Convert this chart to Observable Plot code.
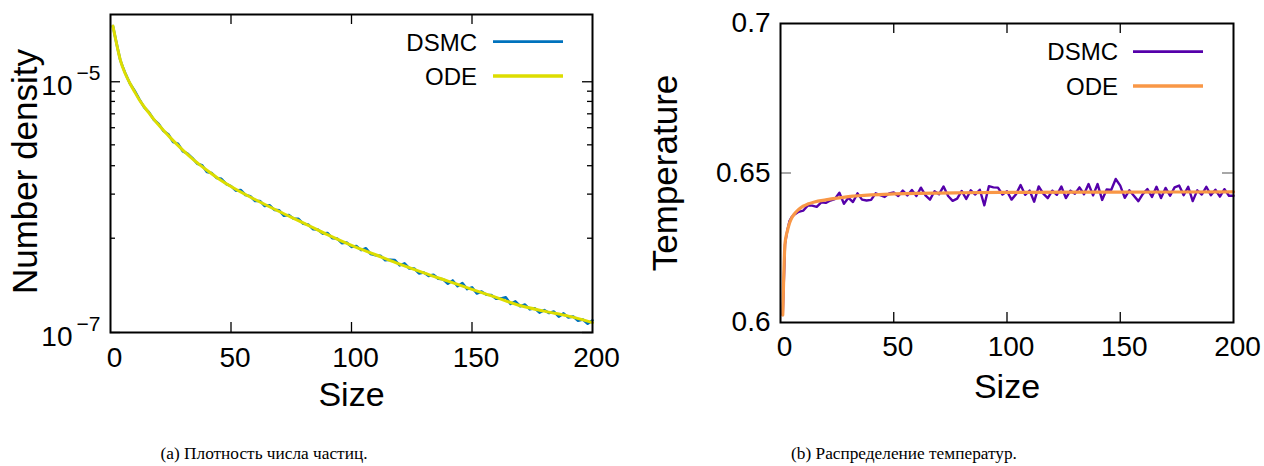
<!DOCTYPE html>
<html><head><meta charset="utf-8">
<script src="https://cdn.jsdelivr.net/npm/d3@7"></script>
<script src="https://cdn.jsdelivr.net/npm/@observablehq/plot@0.6"></script>
<style>
body{margin:0;background:#fff;}
#wrap{position:relative;width:1264px;height:466px;overflow:hidden;background:#fff;}
#wrap > svg{position:absolute;top:0;}
</style></head><body><div id="wrap"></div>
<script>
// ---------- data ----------
const odeSizeN = [1,2,3,4,6,8,10,12,14,16,18,20,25,30,35,40,45,50,60,70,80,90,100,110,120,130,140,150,160,170,180,190,200];
const odeDensity = [2.78e-5,2.24e-5,1.82e-5,1.51e-5,1.175e-5,9.77e-6,8.32e-6,7.16e-6,6.31e-6,5.62e-6,5.01e-6,4.52e-6,3.55e-6,2.85e-6,2.34e-6,1.97e-6,1.68e-6,1.46e-6,1.15e-6,9.23e-7,7.50e-7,6.03e-7,4.95e-7,4.17e-7,3.51e-7,2.99e-7,2.57e-7,2.21e-7,1.905e-7,1.64e-7,1.48e-7,1.35e-7,1.20e-7];

const dsmcSize = [1,2,3,4,5,6,8,10,12,14,16,18,20,22,24,26,28,30,32,34,36,38,40,42,44,46,48,50,
  52,54,56,58,60,62,64,66,68,70,72,74,76,78,80,82,84,86,88,90,92,94,96,98,100,
  102,104,106,108,110,112,114,116,118,120,122,124,126,128,130,132,134,136,138,140,142,144,146,148,150,
  152,154,156,158,160,162,164,166,168,170,172,174,176,178,180,182,184,186,188,190,192,194,196,198,200];
const dsmcDensity = [2.78e-5,2.25e-5,1.83e-5,1.503e-5,1.327e-5,1.186e-5,9.73e-6,8.48e-6,7.24e-6,6.25e-6,5.70e-6,4.98e-6,4.60e-6,4.05e-6,3.81e-6,3.30e-6,3.21e-6,2.79e-6,2.67e-6,2.46e-6,2.22e-6,2.16e-6,1.91e-6,1.87e-6,1.71e-6,1.68e-6,1.53e-6,1.47e-6,
  1.355e-6,1.37e-6,1.25e-6,1.22e-6,1.12e-6,1.12e-6,1.02e-6,1.035e-6,9.51e-7,9.44e-7,8.53e-7,8.65e-7,8.07e-7,8.07e-7,7.36e-7,7.28e-7,6.68e-7,6.64e-7,6.15e-7,6.22e-7,5.66e-7,5.62e-7,5.16e-7,5.22e-7,4.82e-7,
  4.90e-7,4.54e-7,4.70e-7,4.22e-7,4.13e-7,4.10e-7,3.77e-7,3.81e-7,3.78e-7,3.43e-7,3.56e-7,3.24e-7,3.24e-7,2.96e-7,3.01e-7,2.83e-7,2.89e-7,2.69e-7,2.66e-7,2.45e-7,2.60e-7,2.34e-7,2.48e-7,2.22e-7,2.29e-7,
  2.05e-7,2.12e-7,2.00e-7,1.99e-7,1.86e-7,1.87e-7,1.91e-7,1.69e-7,1.77e-7,1.62e-7,1.67e-7,1.53e-7,1.56e-7,1.44e-7,1.51e-7,1.43e-7,1.47e-7,1.34e-7,1.42e-7,1.32e-7,1.34e-7,1.24e-7,1.27e-7,1.175e-7,1.25e-7];

const odeSizeT = [1,2,3,4,5,6,8,10,12,15,20,25,30,40,50,60,80,100,150,200];
const odeTemp = [0.6025,0.6265,0.6305,0.6333,0.635,0.6362,0.6378,0.6389,0.6396,0.6403,0.641,0.6416,0.6421,0.6427,0.643,0.6432,0.6434,0.6435,0.6436,0.6437];
const dsmcTemp = [0.6025,0.6262,0.6308,0.6340,0.6353,0.6360,0.6370,0.6374,0.6391,0.6391,0.6387,0.6402,0.6400,0.6408,0.6413,0.6434,0.6397,0.6417,0.6403,0.6432,0.6411,0.6408,0.6410,0.6432,0.6426,0.6420,0.6432,0.6435,
  0.6423,0.6441,0.6425,0.6443,0.6423,0.6451,0.6425,0.6411,0.6439,0.6429,0.6455,0.6423,0.6407,0.6414,0.6440,0.6413,0.6442,0.6428,0.6444,0.6392,0.6456,0.6452,0.6451,0.6428,0.6439,
  0.6411,0.6429,0.6460,0.6427,0.6441,0.6404,0.6455,0.6431,0.6416,0.6441,0.6427,0.6455,0.6416,0.6441,0.6431,0.6452,0.6429,0.6463,0.6425,0.6463,0.6410,0.6445,0.6443,0.6480,0.6458,
  0.6417,0.6442,0.6424,0.6406,0.6430,0.6446,0.6420,0.6454,0.6416,0.6450,0.6424,0.6452,0.6458,0.6426,0.6454,0.6406,0.6442,0.6428,0.6454,0.6426,0.6444,0.6421,0.6446,0.6424,0.6424];

const xTickValues = [0,50,100,150,200];
const xTickLabels = ["0","50","100","150","200"];
const xInnerTicks = [50,100,150];
const densityMajorTicks = [1e-5,1e-7];
const densityExponents = ["\u22125","\u22127"];
const densityMinorTicks = [8.41e-6,6.97e-6,5.55e-6,4.30e-6,3.14e-6,2.14e-6,1.27e-6,5.65e-7];
const tempTickValues = [0.6,0.65,0.7];
const tempTickLabels = ["0.6","0.65","0.7"];
const tempInnerTicks = [0.65];
const seriesNames = ["DSMC","ODE"];
const captions = ["(a) Плотность числа частиц.","(b) Распределение температур."];

// ---------- styles ----------
const SANS = "'Liberation Sans', Arial, Helvetica, sans-serif";
const colN = ["#0072bd", "#dddd00"];
const colT = ["#5500aa", "#f99746"];
const zip = (xs, ys) => xs.map((x, i) => ({x, y: ys[i]}));
const W = 632, H = 420;
const wrap = document.getElementById("wrap");

// ---------- left panel ----------
{
  const ml = 110, mr = 40, mt = 14, mb = 88;
  const fw = W - ml - mr, fh = H - mt - mb;
  const p = Plot.plot({
    width: W, height: H, marginLeft: ml, marginRight: mr, marginTop: mt, marginBottom: mb,
    style: {fontFamily: SANS, background: "transparent", color: "black", overflow: "visible"},
    x: {domain: [0, 200], axis: null},
    y: {type: "log", domain: [1e-7, 3.44e-5], axis: null},
    marks: [
      Plot.line(zip(dsmcSize, dsmcDensity), {x: "x", y: "y", stroke: colN[0], strokeWidth: 2.6}),
      Plot.line(zip(odeSizeN, odeDensity), {x: "x", y: "y", stroke: colN[1], strokeWidth: 3, curve: "monotone-x"}),
      Plot.ruleX(xInnerTicks, {x: d => d, insetTop: fh - 10, stroke: "black", strokeWidth: 1.3}),
      Plot.ruleX(xInnerTicks, {x: d => d, insetBottom: fh - 10, stroke: "black", strokeWidth: 1.3}),
      Plot.ruleY(densityMajorTicks, {y: d => d, insetRight: fw - 10, stroke: "black", strokeWidth: 1.3}),
      Plot.ruleY(densityMajorTicks, {y: d => d, insetLeft: fw - 10, stroke: "black", strokeWidth: 1.3}),
      Plot.ruleY(densityMinorTicks, {y: d => d, insetRight: fw - 5, stroke: "black", strokeWidth: 1.3}),
      Plot.ruleY(densityMinorTicks, {y: d => d, insetLeft: fw - 5, stroke: "black", strokeWidth: 1.3}),
      Plot.frame({stroke: "black", strokeWidth: 2}),
      Plot.text(xTickValues, {x: d => d, text: (d, i) => xTickLabels[i], frameAnchor: "bottom", lineAnchor: "top", dy: 15, dx: 4, fontSize: 28, fill: "black"}),
      Plot.text(densityMajorTicks, {y: d => d, text: () => "10", frameAnchor: "left", textAnchor: "end", lineAnchor: "bottom", dx: -38, dy: 13.5, fontSize: 28, fill: "black"}),
      Plot.text(densityMajorTicks, {y: d => d, text: (d, i) => densityExponents[i], frameAnchor: "left", textAnchor: "end", lineAnchor: "bottom", dx: -10, dy: -2, fontSize: 21, fill: "black"}),
      Plot.text(["Size"], {text: d => d, frameAnchor: "bottom", lineAnchor: "bottom", dy: 73, fontSize: 34, fill: "black"}),
      Plot.text(["Number density"], {text: d => d, frameAnchor: "left", textAnchor: "middle", rotate: -90, lineAnchor: "middle", dx: -85, dy: -2, fontSize: 35, fill: "black"})
    ]
  });
  p.style.left = "0px";
  wrap.appendChild(p);
}

// ---------- right panel ----------
{
  const ml = 148, mr = 31, mt = 23, mb = 98;
  const fw = W - ml - mr, fh = H - mt - mb;
  const p = Plot.plot({
    width: W, height: H, marginLeft: ml, marginRight: mr, marginTop: mt, marginBottom: mb,
    style: {fontFamily: SANS, background: "transparent", color: "black", overflow: "visible"},
    x: {domain: [0, 200], axis: null},
    y: {domain: [0.6, 0.7], axis: null},
    marks: [
      Plot.line(zip(dsmcSize, dsmcTemp), {x: "x", y: "y", stroke: colT[0], strokeWidth: 2.4}),
      Plot.line(zip(odeSizeT, odeTemp), {x: "x", y: "y", stroke: colT[1], strokeWidth: 3.2, curve: "monotone-x"}),
      Plot.ruleX(xInnerTicks, {x: d => d, insetTop: fh - 10, stroke: "black", strokeWidth: 1.3}),
      Plot.ruleX(xInnerTicks, {x: d => d, insetBottom: fh - 10, stroke: "black", strokeWidth: 1.3}),
      Plot.ruleY(tempInnerTicks, {y: d => d, insetRight: fw - 11, stroke: "#777", strokeWidth: 1.3}),
      Plot.ruleY(tempInnerTicks, {y: d => d, insetLeft: fw - 11, stroke: "#777", strokeWidth: 1.3}),
      Plot.frame({stroke: "black", strokeWidth: 2}),
      Plot.text(xTickValues, {x: d => d, text: (d, i) => xTickLabels[i], frameAnchor: "bottom", lineAnchor: "top", dy: 14, dx: 4, fontSize: 28, fill: "black"}),
      Plot.text(tempTickValues, {y: d => d, text: (d, i) => tempTickLabels[i], frameAnchor: "left", textAnchor: "end", lineAnchor: "middle", dx: -10, fontSize: 28, fill: "black"}),
      Plot.text(["Size"], {text: d => d, frameAnchor: "bottom", lineAnchor: "bottom", dy: 75, fontSize: 34, fill: "black"}),
      Plot.text(["Temperature"], {text: d => d, frameAnchor: "left", textAnchor: "middle", rotate: -90, lineAnchor: "middle", dx: -114.5, fontSize: 35, fill: "black"})
    ]
  });
  p.style.left = W + "px";
  wrap.appendChild(p);
}

// ---------- legends & captions overlay ----------
{
  const svg = d3.create("svg").attr("width", 1264).attr("height", 466)
    .style("left", "0px").style("pointer-events", "none");
  const legends = [
    {tx: 477, lx1: 493, lx2: 563, base: [50.6, 85], ly: [41.7, 76], cols: colN},
    {tx: 1118, lx1: 1133, lx2: 1203, base: [60, 95], ly: [51.7, 86], cols: colT}
  ];
  legends.forEach(lg => {
    seriesNames.forEach((name, i) => {
      svg.append("text").attr("x", lg.tx).attr("y", lg.base[i]).attr("text-anchor", "end")
        .attr("font-family", SANS).attr("font-size", 24).attr("fill", "black").text(name);
      svg.append("line").attr("x1", lg.lx1).attr("x2", lg.lx2).attr("y1", lg.ly[i]).attr("y2", lg.ly[i])
        .attr("stroke", lg.cols[i]).attr("stroke-width", i === 0 ? 2.8 : 3.3);
    });
  });
  [264, 904].forEach((cx, i) => {
    svg.append("text").attr("x", cx).attr("y", 459).attr("text-anchor", "middle")
      .attr("font-family", "'Liberation Serif', 'Times New Roman', serif").attr("font-size", 17.3)
      .attr("fill", "black").text(captions[i]);
  });
  wrap.appendChild(svg.node());
}
</script>
</body></html>
